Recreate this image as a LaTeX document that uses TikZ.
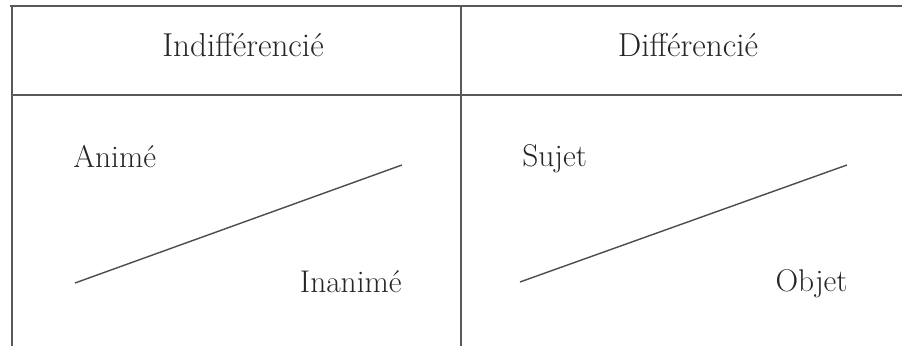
\documentclass[tikz,border=0pt]{standalone}
\usetikzlibrary{positioning}

\begin{document}
\begin{tikzpicture}[x=0.5pt,y=-0.5pt,
  rule/.style={draw=black!65,line width=0.6pt},
  link/.style={draw=black!70,line width=0.7pt},
  head/.style={inner sep=0pt,anchor=base,text=black!85,font=\fontsize{16.6}{20}\selectfont},
  word/.style={inner sep=0pt,text=black!85,font=\fontsize{15.7}{19}\selectfont}]
\useasboundingbox (0,0) rectangle (902,346);
% frame of the table
\draw[rule] (10,6) -- (902,6);
\draw[rule] (12,6) -- (12,346);
\draw[rule] (12,95) -- (902,95);
\draw[rule] (461,6) -- (461,346);
% headers
\node[head] (indiff) at (243,57) {Indifférencié};
\node[head] (diff) at (688,57) {Différencié};
% left cell
\node[word,anchor=base west] (anime) at (73,168) {Animé};
\node[word,anchor=base east] (inanime) at (402,293) {Inanimé};
\coordinate (a1) at (75,283);
\coordinate (a2) at (402,165);
\path[link] (a1) -- (a2);
% right cell
\node[word,anchor=base west] (sujet) at (522,167) {Sujet};
\node[word,anchor=base east] (objet) at (848,292) {Objet};
\coordinate (b1) at (520,282);
\coordinate (b2) at (847,165);
\path[link] (b1) -- (b2);
\end{tikzpicture}
\end{document}
